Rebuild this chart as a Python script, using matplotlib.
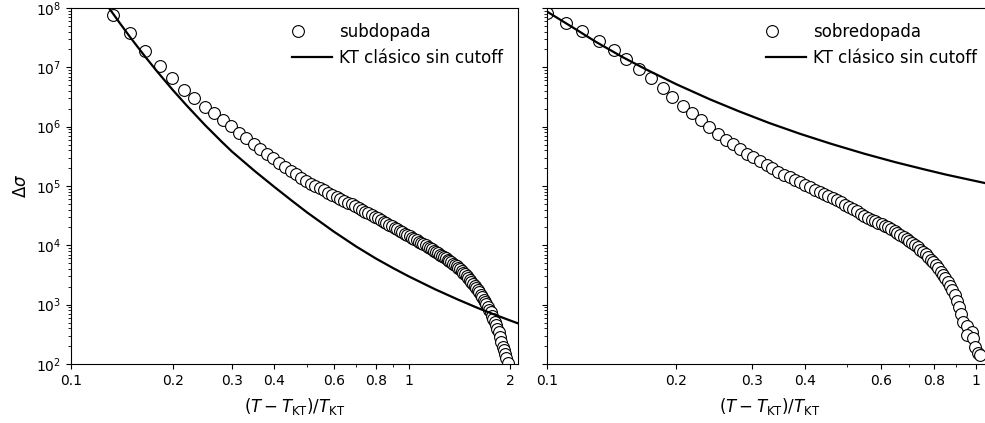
import matplotlib
matplotlib.use("Agg")
import matplotlib.pyplot as plt
from matplotlib.legend_handler import HandlerLine2D
from matplotlib.ticker import FixedLocator, FixedFormatter, NullFormatter

# muestra subdopada: t = (T - T_KT)/T_KT y exceso de conductividad
t_sub = [0.133, 0.150, 0.166, 0.183, 0.199, 0.216, 0.232, 0.249, 0.265, 0.282,
         0.298, 0.315, 0.331, 0.348, 0.364, 0.381, 0.397, 0.414, 0.430, 0.447,
         0.463, 0.480, 0.496, 0.513, 0.529, 0.546, 0.562, 0.579, 0.595, 0.612,
         0.628, 0.645, 0.661, 0.678, 0.694, 0.711, 0.727, 0.744, 0.760, 0.777,
         0.793, 0.810, 0.826, 0.843, 0.859, 0.876, 0.892, 0.909, 0.925, 0.942,
         0.958, 0.975, 0.991, 1.008, 1.024, 1.041, 1.057, 1.074, 1.090, 1.107,
         1.123, 1.140, 1.156, 1.173, 1.189, 1.206, 1.222, 1.239, 1.255, 1.272,
         1.288, 1.305, 1.321, 1.338, 1.354, 1.371, 1.387, 1.404, 1.420, 1.437,
         1.453, 1.470, 1.486, 1.503, 1.519, 1.536, 1.552, 1.569, 1.585, 1.602,
         1.618, 1.635, 1.651, 1.668, 1.684, 1.701, 1.717, 1.734, 1.750, 1.767,
         1.783, 1.800, 1.816, 1.833, 1.849, 1.866, 1.882, 1.899, 1.915, 1.932,
         1.948, 1.965]
ds_sub = [7.59e7, 3.72e7, 1.92e7, 1.05e7, 6.50e6, 4.21e6, 3.02e6, 2.18e6, 1.68e6, 1.28e6,
          1.01e6, 7.96e5, 6.44e5, 5.15e5, 4.27e5, 3.51e5, 2.92e5, 2.46e5, 2.11e5, 1.79e5,
          1.57e5, 1.37e5, 1.21e5, 1.10e5, 1.01e5, 9.20e4, 8.45e4, 7.73e4, 7.11e4, 6.56e4,
          6.10e4, 5.65e4, 5.26e4, 4.88e4, 4.54e4, 4.23e4, 3.96e4, 3.70e4, 3.47e4, 3.24e4,
          3.04e4, 2.84e4, 2.68e4, 2.52e4, 2.38e4, 2.23e4, 2.10e4, 1.98e4, 1.87e4, 1.77e4,
          1.67e4, 1.58e4, 1.49e4, 1.41e4, 1.35e4, 1.28e4, 1.22e4, 1.16e4, 1.10e4, 1.05e4,
          9.98e3, 9.46e3, 8.99e3, 8.53e3, 8.13e3, 7.71e3, 7.35e3, 6.98e3, 6.67e3, 6.32e3,
          6.04e3, 5.73e3, 5.45e3, 5.16e3, 4.90e3, 4.65e3, 4.42e3, 4.17e3, 3.93e3, 3.67e3,
          3.45e3, 3.24e3, 3.04e3, 2.84e3, 2.63e3, 2.42e3, 2.24e3, 2.07e3, 1.91e3, 1.76e3,
          1.61e3, 1.47e3, 1.34e3, 1.22e3, 1.12e3, 1.02e3, 9.16e2, 8.22e2, 7.41e2, 6.56e2,
          5.83e2, 5.16e2, 4.51e2, 3.90e2, 3.40e2, 2.83e2, 2.38e2, 1.97e2, 1.70e2, 1.45e2,
          1.25e2, 1.04e2]

# KT clásico (sin cutoff) para la subdopada
t_kt_sub = [0.128, 0.14, 0.15, 0.165, 0.18, 0.2, 0.22, 0.25, 0.28, 0.3, 0.35, 0.4,
            0.45, 0.5, 0.6, 0.7, 0.8, 0.9, 1.0, 1.2, 1.4, 1.6, 1.8, 2.0, 2.12]
ds_kt_sub = [1.10e8, 5.41e7, 3.17e7, 1.57e7, 8.49e6, 4.18e6, 2.28e6, 1.05e6, 5.52e5,
             3.79e5, 1.79e5, 9.68e4, 5.71e4, 3.60e4, 1.71e4, 9.53e3, 6.00e3, 4.13e3,
             3.01e3, 1.81e3, 1.22e3, 8.83e2, 6.78e2, 5.41e2, 4.79e2]

# muestra sobredopada
t_sob = [0.100, 0.111, 0.121, 0.132, 0.143, 0.153, 0.164, 0.175, 0.186, 0.196,
         0.207, 0.218, 0.228, 0.239, 0.250, 0.261, 0.271, 0.282, 0.293, 0.303,
         0.314, 0.325, 0.335, 0.346, 0.357, 0.368, 0.378, 0.389, 0.400, 0.410,
         0.421, 0.432, 0.442, 0.453, 0.464, 0.475, 0.485, 0.496, 0.507, 0.517,
         0.528, 0.539, 0.549, 0.560, 0.571, 0.582, 0.592, 0.603, 0.614, 0.624,
         0.635, 0.646, 0.656, 0.667, 0.678, 0.689, 0.699, 0.710, 0.721, 0.731,
         0.742, 0.753, 0.763, 0.774, 0.785, 0.796, 0.806, 0.817, 0.828, 0.838,
         0.849, 0.860, 0.870, 0.881, 0.892, 0.903, 0.913, 0.924, 0.934, 0.951,
         0.977, 0.951, 0.986, 0.995, 1.012, 1.022]
ds_sob = [8.32e7, 5.69e7, 4.03e7, 2.77e7, 1.94e7, 1.40e7, 9.55e6, 6.53e6, 4.41e6, 3.13e6,
          2.23e6, 1.67e6, 1.29e6, 9.79e5, 7.59e5, 6.05e5, 5.04e5, 4.14e5, 3.52e5, 3.03e5,
          2.61e5, 2.25e5, 1.99e5, 1.75e5, 1.56e5, 1.41e5, 1.28e5, 1.15e5, 1.02e5, 9.44e4,
          8.65e4, 7.91e4, 7.31e4, 6.73e4, 6.19e4, 5.70e4, 5.28e4, 4.83e4, 4.43e4, 4.07e4,
          3.73e4, 3.42e4, 3.16e4, 2.88e4, 2.71e4, 2.54e4, 2.40e4, 2.25e4, 2.11e4, 2.00e4,
          1.87e4, 1.75e4, 1.63e4, 1.51e4, 1.40e4, 1.29e4, 1.20e4, 1.10e4, 1.01e4, 9.31e3,
          8.47e3, 7.69e3, 7.05e3, 6.37e3, 5.75e3, 5.15e3, 4.62e3, 4.11e3, 3.61e3, 3.19e3,
          2.79e3, 2.40e3, 2.09e3, 1.79e3, 1.44e3, 1.15e3, 9.0e2, 6.9e2, 5.2e2, 4.3e2,
          3.5e2, 3.1e2, 2.7e2, 1.95e2, 1.51e2, 1.41e2]

t_kt_sob = [0.098, 0.1, 0.115, 0.13, 0.15, 0.17, 0.2, 0.24, 0.28, 0.33, 0.39, 0.46,
            0.55, 0.65, 0.75, 0.85, 0.95, 1.05, 1.1]
ds_kt_sob = [9.55e7, 8.71e7, 4.68e7, 2.69e7, 1.49e7, 9.27e6, 5.21e6, 2.88e6, 1.82e6,
             1.15e6, 7.53e5, 5.13e5, 3.49e5, 2.51e5, 1.94e5, 1.56e5, 1.31e5, 1.12e5,
             1.05e5]

ticks_izq = [0.1, 0.2, 0.3, 0.4, 0.6, 0.8, 1, 2]
etiq_izq = ["0.1", "0.2", "0.3", "0.4", "0.6", "0.8", "1", "2"]
ticks_der = [0.1, 0.2, 0.3, 0.4, 0.6, 0.8, 1]
etiq_der = ["0.1", "0.2", "0.3", "0.4", "0.6", "0.8", "1"]
menores = [0.5, 0.7, 0.9]


class MarcadorIzq(HandlerLine2D):
    # el círculo de la leyenda va al inicio del hueco, no al centro
    def create_artists(self, legend, orig_handle, xdescent, ydescent,
                       width, height, fontsize, trans):
        arts = super().create_artists(legend, orig_handle, xdescent, ydescent,
                                      width, height, fontsize, trans)
        for a in arts:
            x = a.get_xdata()
            x0 = x[0] + 0.15 * (x[-1] - x[0])
            a.set_xdata([x0, x[-1]])
            a.set_ydata([a.get_ydata()[0]] * 2)
            a.set_markevery([0])
        return arts


fig = plt.figure(figsize=(9.85, 4.23), dpi=100)
ax1 = fig.add_axes([0.0721, 0.1395, 0.4538, 0.8416])
ax2 = fig.add_axes([0.5553, 0.1395, 0.4518, 0.8416])

paneles = [
    (ax1, t_sub, ds_sub, t_kt_sub, ds_kt_sub, "subdopada", (0.1, 2.11), ticks_izq, etiq_izq),
    (ax2, t_sob, ds_sob, t_kt_sob, ds_kt_sob, "sobredopada", (0.1, 1.09), ticks_der, etiq_der),
]

for ax, t, ds, tk, dk, nombre, xlim, tks, etq in paneles:
    pts, = ax.plot(t, ds, "o", ms=8.5, mfc="white", mec="black", mew=0.8, label=nombre)
    ax.plot(tk, dk, "-", color="black", lw=1.6, label="KT clásico sin cutoff")
    ax.set_xscale("log")
    ax.set_yscale("log")
    ax.set_xlim(*xlim)
    ax.set_ylim(1e2, 1e8)
    ax.xaxis.set_major_locator(FixedLocator(tks))
    ax.xaxis.set_major_formatter(FixedFormatter(etq))
    ax.xaxis.set_minor_locator(FixedLocator(menores))
    ax.xaxis.set_minor_formatter(NullFormatter())
    ax.yaxis.set_minor_formatter(NullFormatter())
    ax.tick_params(labelsize=10)
    ax.set_xlabel(r"$(T-T_{\mathrm{KT}})/T_{\mathrm{KT}}$", fontsize=12, labelpad=6)
    ax.legend(loc="upper right", frameon=False, fontsize=12, handlelength=2.4,
              handletextpad=0.4, handler_map={pts: MarcadorIzq()})

ax1.set_ylabel(r"$\Delta\sigma$", fontsize=12)
ax2.tick_params(axis="y", which="both", labelleft=False)

fig.savefig("out.png", dpi=100)
